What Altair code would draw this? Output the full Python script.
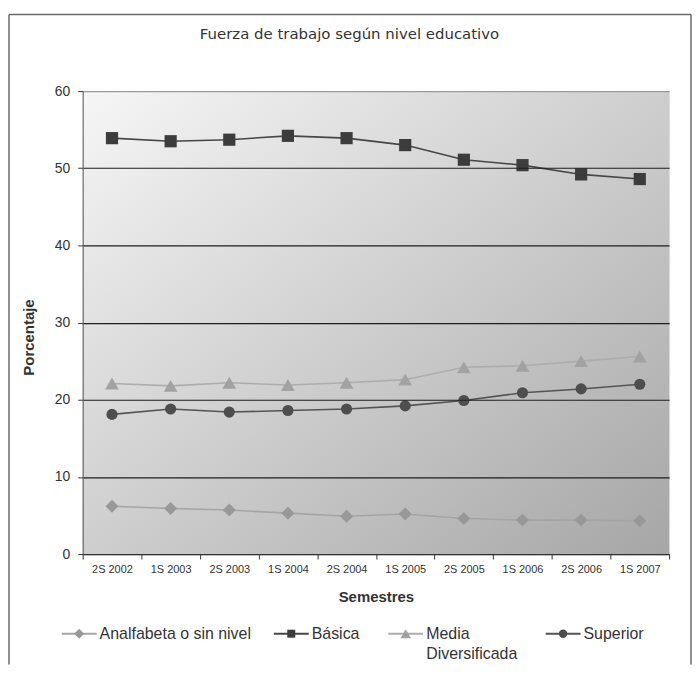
import altair as alt
import pandas as pd

semestres = ["2S 2002", "1S 2003", "2S 2003", "1S 2004", "2S 2004",
             "1S 2005", "2S 2005", "1S 2006", "2S 2006", "1S 2007"]
series = ["Analfabeta o sin nivel", "Básica", "Media Diversificada", "Superior"]
analfabeta = [6.2, 5.9, 5.7, 5.3, 4.9, 5.2, 4.6, 4.4, 4.4, 4.3]
basica = [53.9, 53.5, 53.7, 54.2, 53.9, 53.0, 51.1, 50.4, 49.2, 48.6]
media = [22.1, 21.8, 22.2, 21.9, 22.2, 22.6, 24.2, 24.4, 25.0, 25.6]
superior = [18.1, 18.8, 18.4, 18.6, 18.8, 19.2, 19.9, 20.9, 21.4, 22.0]
titulo = "Fuerza de trabajo según nivel educativo"

rows = []
for name, vals in zip(series, [analfabeta, basica, media, superior]):
    for s, v in zip(semestres, vals):
        rows.append({"semestre": s, "serie": name, "valor": v})
df = pd.DataFrame(rows)

W, H = 589, 465
line_colors = ["#a5a5a5", "#464646", "#adadad", "#545454"]
marker_colors = ["#989898", "#3c3c3c", "#a2a2a2", "#4e4e4e"]
marker_shapes = ["diamond", "square", "triangle-up", "circle"]
marker_sizes = [170, 150, 190, 125]
legend_marker_sizes = [100, 64, 110, 72]
# legend entry anchors (line start, relative to plot origin) - layout only
legend_x = [-21, 192, 307, 465]
legend_y = 545

FONT = "Liberation Sans"

x_enc = alt.X(
    "semestre:N", sort=semestres,
    scale=alt.Scale(type="band", paddingInner=0, paddingOuter=0),
    axis=alt.Axis(
        title="Semestres", labelAngle=0, tickBand="extent", tickSize=5,
        tickColor="#333333", domainColor="#333333", labelFont=FONT,
        labelFontSize=11, labelColor="#333333", labelPadding=5,
        titleFont=FONT, titleFontSize=15, titleFontWeight="bold",
        titleColor="#333333", titleY=43, titleBaseline="middle",
        grid=False, zindex=1,
    ),
)
y_enc = alt.Y(
    "valor:Q",
    scale=alt.Scale(domain=[0, 60], nice=False),
    axis=alt.Axis(
        values=[0, 10, 20, 30, 40, 50, 60], title="Porcentaje", grid=True,
        gridColor={"condition": {"test": "datum.value === 60", "value": "#9a9a9a"},
                   "value": "#1e1e1e"},
        gridWidth=1.2, tickSize=5, tickColor="#333333", domainColor="#555555",
        labelFont=FONT, labelFontSize=14, labelColor="#333333", labelPadding=8,
        titleFont=FONT, titleFontSize=15, titleFontWeight="bold",
        titleColor="#333333", titleX=-54, titleY=247, titleAngle=270,
        titleBaseline="middle", titleAlign="center", zindex=1,
    ),
)

color_scale = alt.Scale(domain=series, range=line_colors)

background = alt.Chart(pd.DataFrame({"a": [0]})).mark_rect(
    color=alt.Gradient(
        gradient="linear",
        stops=[alt.GradientStop(color="#f6f6f6", offset=0),
               alt.GradientStop(color="#a6a6a6", offset=1)],
        x1=0, y1=0, x2=1, y2=1,
    )
).encode(x=alt.value(0), x2=alt.value(W), y=alt.value(0), y2=alt.value(H))

lines = alt.Chart(df).mark_line(strokeWidth=1.6).encode(
    x=x_enc, y=y_enc,
    color=alt.Color("serie:N", scale=color_scale, legend=None),
    detail="serie:N",
)

point_layers = []
for name, shp, col, sz in zip(series, marker_shapes, marker_colors, marker_sizes):
    point_layers.append(
        alt.Chart(df).transform_filter(alt.datum.serie == name).mark_point(
            filled=True, opacity=1, shape=shp, size=sz, color=col
        ).encode(x=x_enc, y=y_enc)
    )

# manual legend (line + marker + label for each series)
legend_layers = []
for name, shp, lcol, mcol, msz, lx in zip(series, marker_shapes, line_colors,
                                          marker_colors, legend_marker_sizes, legend_x):
    ldata = pd.DataFrame({"serie": [name]})
    legend_layers.append(
        alt.Chart(ldata).mark_rule(color=lcol, strokeWidth=2).encode(
            x=alt.value(lx), x2=alt.value(lx + 35), y=alt.value(legend_y))
    )
    legend_layers.append(
        alt.Chart(ldata).mark_point(filled=True, opacity=1, shape=shp, size=msz,
                                    color=mcol).encode(
            x=alt.value(lx + 17.5), y=alt.value(legend_y))
    )
    legend_layers.append(
        alt.Chart(ldata).mark_text(
            font=FONT, fontSize=16, color="#333333", align="left",
            baseline="middle", lineBreak=" " if name == "Media Diversificada" else "\n",
            lineHeight=20,
        ).encode(text="serie:N", x=alt.value(lx + 38), y=alt.value(legend_y))
    )

frame_data = pd.DataFrame({"a": [0]})
bc = "#6a6a6a"
left_rule = alt.Chart(frame_data).mark_rule(color=bc, strokeWidth=1.5).encode(
    x=alt.value(-74), y=alt.value(-77), y2=alt.value(576))
top_rule = alt.Chart(frame_data).mark_rule(color=bc, strokeWidth=1.5).encode(
    x=alt.value(-74), x2=alt.value(611), y=alt.value(-77))
right_rule = alt.Chart(frame_data).mark_rule(color=bc, strokeWidth=1.5).encode(
    x=alt.value(611), y=alt.value(-77), y2=alt.value(576))

title_layer = alt.Chart(pd.DataFrame({"t": [titulo]})).mark_text(
    font="DejaVu Sans", fontSize=15, color="#333333", align="center",
    baseline="middle",
).encode(text="t:N", x=alt.value(268), y=alt.value(-57))

chart = alt.layer(
    background, lines, *point_layers, *legend_layers,
    left_rule, top_rule, right_rule, title_layer
).properties(
    width=W, height=H,
    padding={"left": 0, "top": 4, "right": 0, "bottom": 0},
).configure_view(stroke="#999999", strokeWidth=1).configure(background="white")

chart.save("out.html", embed_options={"renderer": "svg", "actions": False})
